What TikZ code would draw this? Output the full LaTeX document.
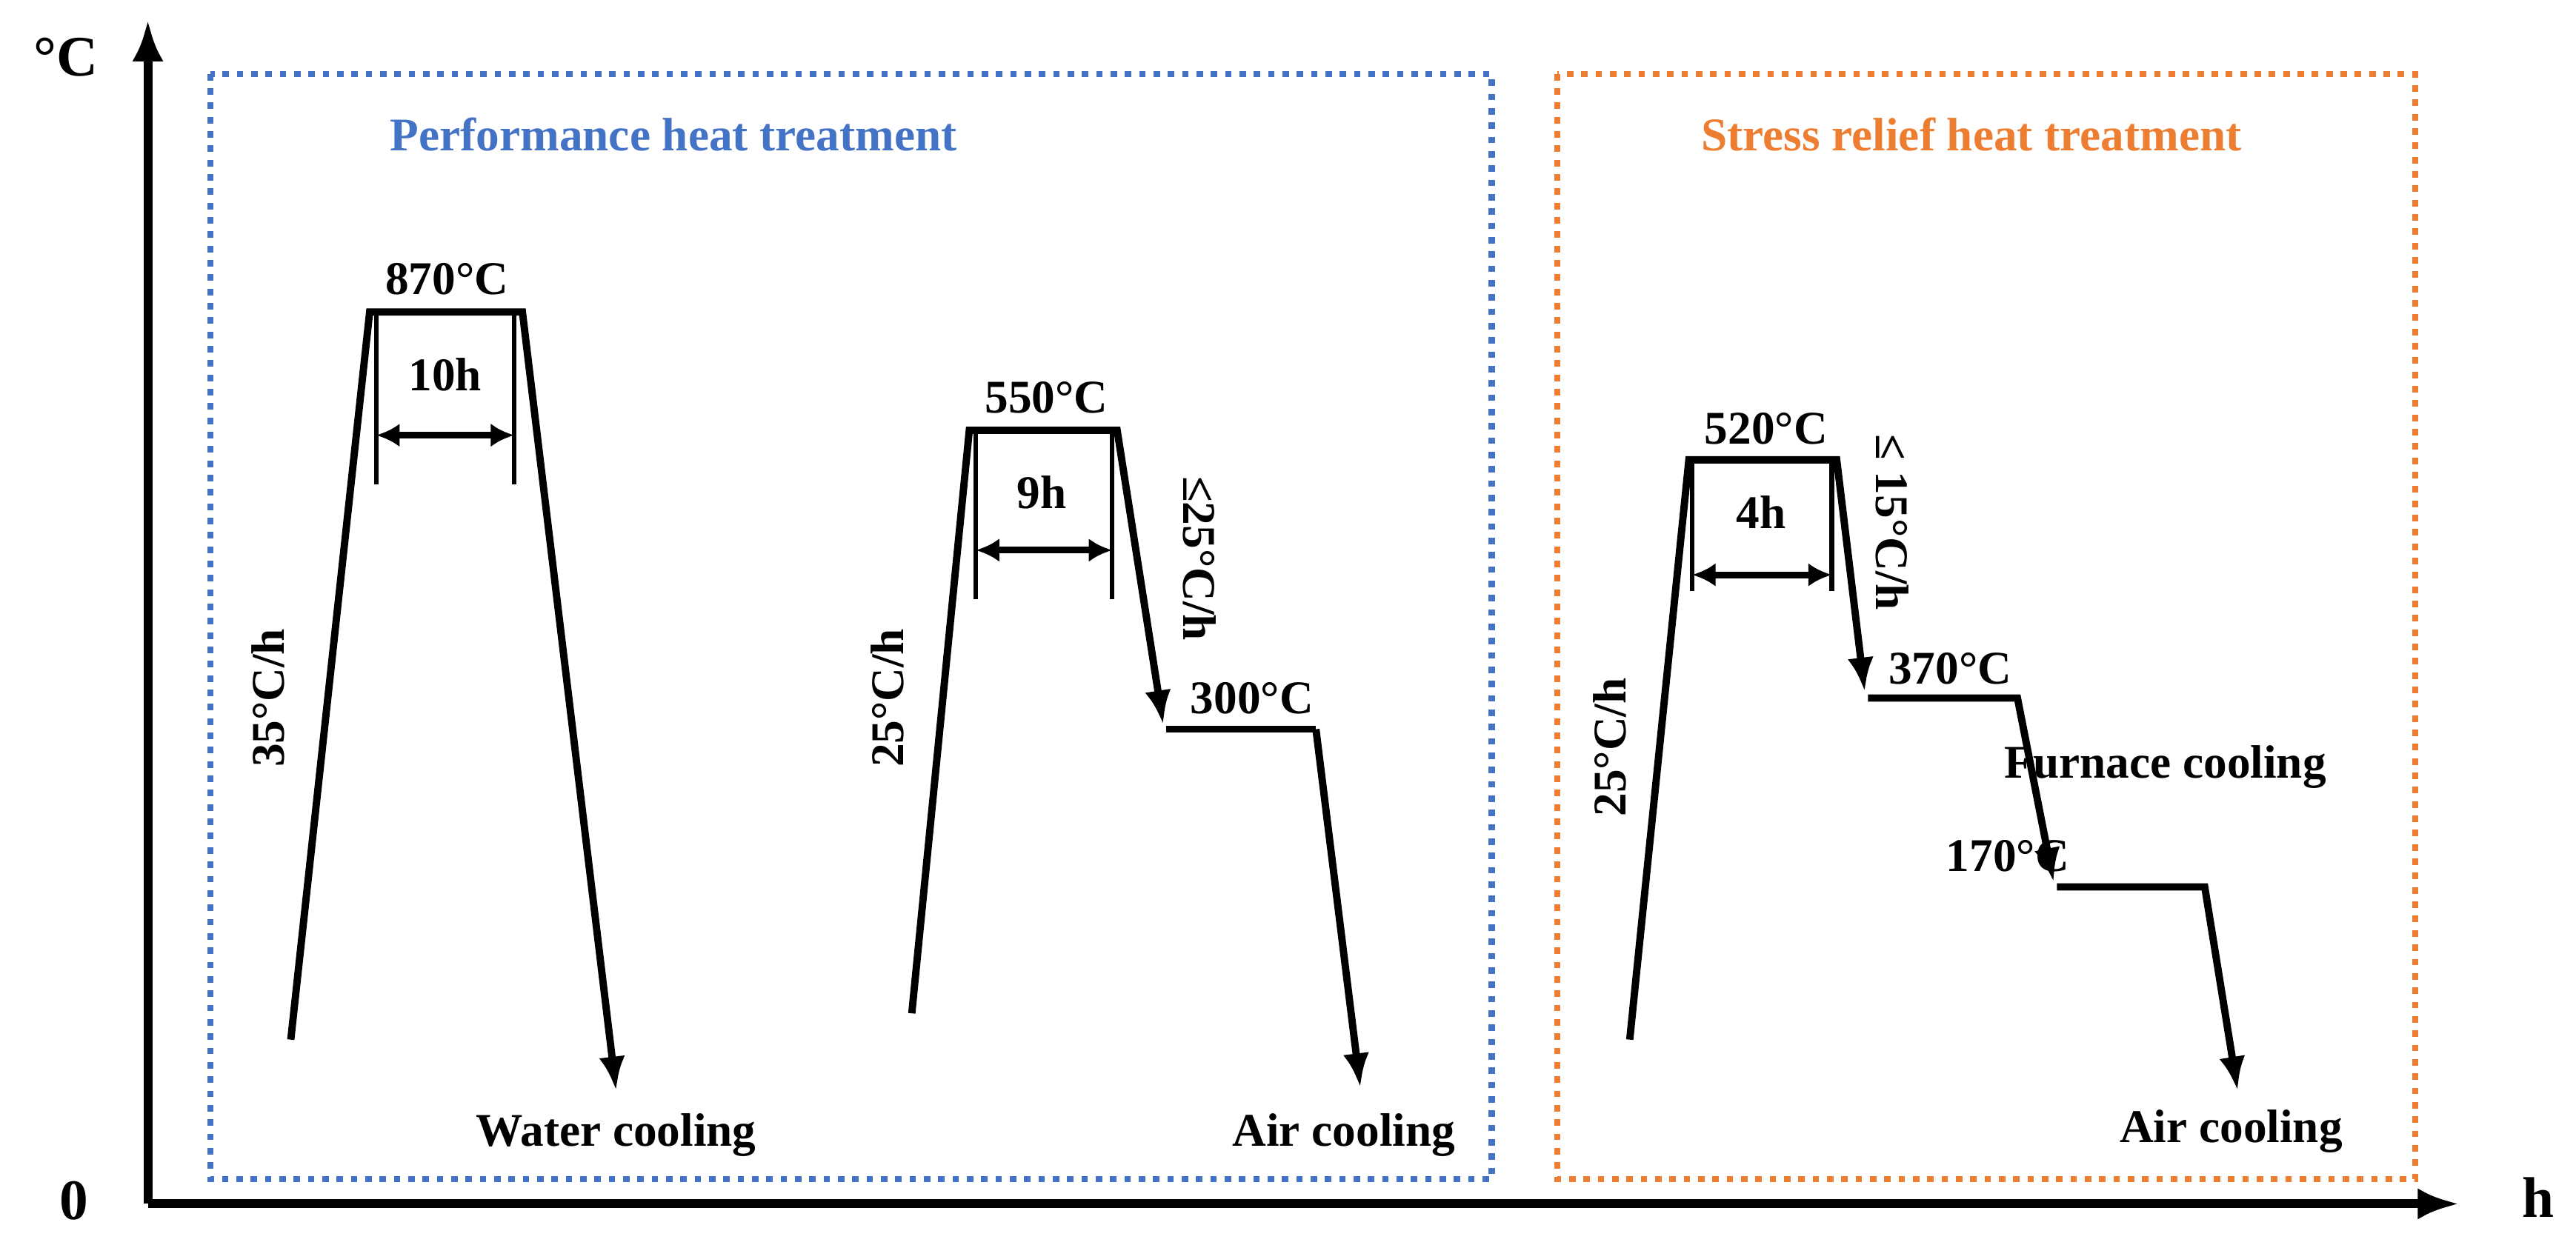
\documentclass[tikz,border=0pt]{standalone}
\usepackage{fontspec}
\setmainfont{Liberation Serif}
\usetikzlibrary{arrows.meta}
\definecolor{bl}{RGB}{68,114,196}
\definecolor{og}{RGB}{237,125,49}
\begin{document}
\begin{tikzpicture}[x=0.02217cm,y=-0.02217cm,
  lbl/.style={font=\fontsize{18}{20}\selectfont\bfseries,inner sep=1pt},
  prof/.style={line width=2.8pt,line join=miter},
  arr/.style={prof,-{Latex[length=13pt,width=10pt]}},
  tick/.style={line width=1.8pt},
  dbl/.style={line width=2.6pt,{Latex[length=9pt,width=9pt]}-{Latex[length=9pt,width=9pt]}},
  box/.style={line width=2.4pt,dash pattern=on 2.5pt off 3pt}]
\useasboundingbox (0,0) rectangle (1568,758);
% axes
\coordinate (O) at (90,733);
\coordinate (Ytop) at (90,12);
\coordinate (Xend) at (1497,733);
\draw[line width=3.4pt,-{Latex[length=16pt,width=12pt]}] (O) -- (Ytop);
\draw[line width=3.4pt,-{Latex[length=16pt,width=12pt]}] (O) -- (Xend);
\node[lbl,font=\fontsize{22}{24}\selectfont\bfseries] (yl) at (40,35) {°C};
\node[lbl,font=\fontsize{22}{24}\selectfont\bfseries] (zero) at (45,731) {0};
\node[lbl,font=\fontsize{22}{24}\selectfont\bfseries] (xl) at (1545,729) {h};
% boxes
\draw[box,bl] (128,45) rectangle (908,718);
\draw[box,og] (948,45) rectangle (1470,718);
\node[lbl,text=bl] (t1) at (410,82) {Performance heat treatment};
\node[lbl,text=og] (t2) at (1200,82) {Stress relief heat treatment};
% profile 1
\coordinate (a1) at (177,633); \coordinate (a2) at (225,190);
\coordinate (a3) at (318,190); \coordinate (a4) at (375,664);
\draw[arr] (a1) -- (a2) -- (a3) -- (a4);
\node[lbl] (l870) at (272,170) {870°C};
\coordinate (k1) at (229,190); \coordinate (k1b) at (229,295);
\coordinate (k2) at (313,190); \coordinate (k2b) at (313,295);
\draw[tick] (k1) -- (k1b); \draw[tick] (k2) -- (k2b);
\coordinate (d1) at (229,265); \coordinate (d2) at (313,265);
\draw[dbl] (d1) -- (d2);
\node[lbl] (h10) at (271,228) {10h};
\node[lbl,rotate=90] (r35) at (163,425) {35°C/h};
\node[lbl] (wc) at (375,691) {Water cooling};
% profile 2
\coordinate (b1) at (555,617); \coordinate (b2) at (590,262);
\coordinate (b3) at (680,262); \coordinate (b4) at (708,441);
\coordinate (b5) at (710,444); \coordinate (b6) at (801,444);
\coordinate (b7) at (828,662);
\draw[arr] (b1) -- (b2) -- (b3) -- (b4);
\draw[prof] (b5) -- (b6);
\draw[arr] (b6) -- (b7);
\node[lbl] (l550) at (637,242) {550°C};
\coordinate (m1) at (594,262); \coordinate (m1b) at (594,365);
\coordinate (m2) at (677,262); \coordinate (m2b) at (677,365);
\draw[tick] (m1) -- (m1b); \draw[tick] (m2) -- (m2b);
\coordinate (e1) at (594,335); \coordinate (e2) at (677,335);
\draw[dbl] (e1) -- (e2);
\node[lbl] (h9) at (634,300) {9h};
\node[lbl,rotate=90] (r25a) at (540,425) {25°C/h};
\node[lbl,rotate=-90] (r25b) at (730,340) {≤25°C/h};
\node[lbl] (l300) at (762,425) {300°C};
\node[lbl] (ac1) at (818,691) {Air cooling};
% profile 3
\coordinate (c1) at (992,633); \coordinate (c2) at (1028,280);
\coordinate (c3) at (1118,280); \coordinate (c4) at (1135,421);
\coordinate (c5) at (1137,425); \coordinate (c6) at (1228,425);
\coordinate (c7) at (1250,537); \coordinate (c8) at (1252,540);
\coordinate (c9) at (1342,540); \coordinate (c10) at (1362,664);
\draw[arr] (c1) -- (c2) -- (c3) -- (c4);
\draw[arr] (c5) -- (c6) -- (c7);
\draw[arr] (c8) -- (c9) -- (c10);
\node[lbl] (l520) at (1075,261) {520°C};
\coordinate (n1) at (1030,280); \coordinate (n1b) at (1030,360);
\coordinate (n2) at (1115,280); \coordinate (n2b) at (1115,360);
\draw[tick] (n1) -- (n1b); \draw[tick] (n2) -- (n2b);
\coordinate (f1) at (1030,350); \coordinate (f2) at (1115,350);
\draw[dbl] (f1) -- (f2);
\node[lbl] (h4) at (1072,312) {4h};
\node[lbl,rotate=90] (r25c) at (980,455) {25°C/h};
\node[lbl,rotate=-90] (r15) at (1152,318) {≤ 15°C/h};
\node[lbl] (l370) at (1187,407) {370°C};
\node[lbl] (fc) at (1318,467) {Furnace cooling};
\node[lbl] (l170) at (1222,521) {170°C};
\node[lbl] (ac2) at (1358,689) {Air cooling};
\end{tikzpicture}
\end{document}
